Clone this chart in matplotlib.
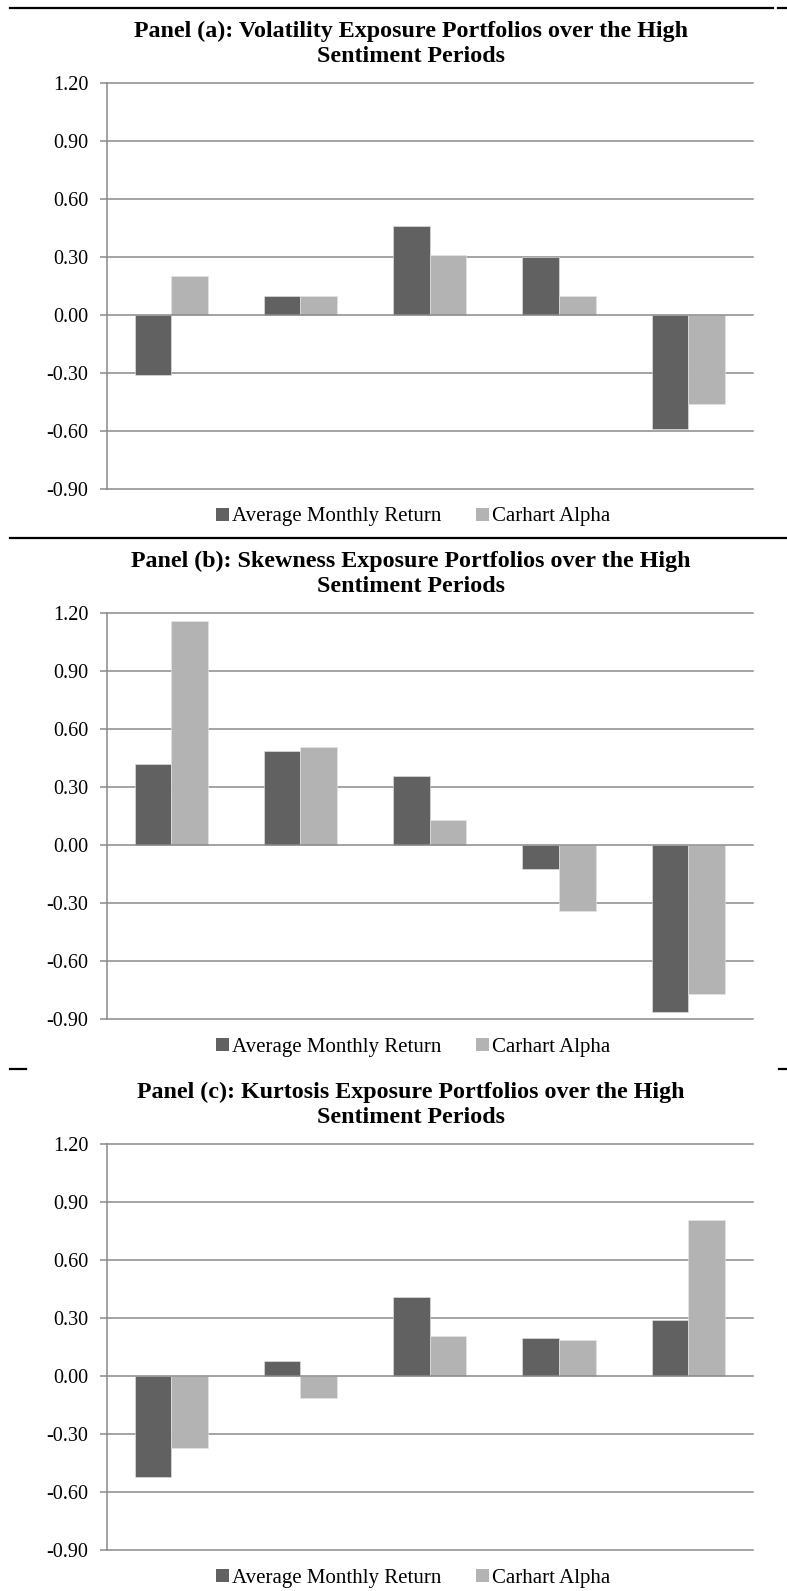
import numpy as np
import matplotlib
matplotlib.use("Agg")
import matplotlib.pyplot as plt
from matplotlib.patches import Patch

plt.rcParams["font.family"] = ["Liberation Serif", "DejaVu Serif"]

W, H, DPI = 787, 1591, 100

DARK = "#616161"
LIGHT = "#b3b3b3"
GRID = "#8a8a8a"

# five exposure-sorted portfolios per panel
portfolios = [1, 2, 3, 4, 5]
series_names = ["Average Monthly Return", "Carhart Alpha"]

vol_avg_return = [-0.31, 0.10, 0.46, 0.30, -0.59]
vol_carhart = [0.20, 0.10, 0.31, 0.10, -0.46]

skew_avg_return = [0.42, 0.49, 0.36, -0.12, -0.86]
skew_carhart = [1.16, 0.51, 0.13, -0.34, -0.77]

kurt_avg_return = [-0.52, 0.08, 0.41, 0.20, 0.29]
kurt_carhart = [-0.37, -0.11, 0.21, 0.19, 0.81]

panel_titles = [
    ("Panel (a): Volatility Exposure Portfolios over the High", "Sentiment Periods"),
    ("Panel (b): Skewness Exposure Portfolios over the High", "Sentiment Periods"),
    ("Panel (c): Kurtosis Exposure Portfolios over the High", "Sentiment Periods"),
]
y_ticks = [-0.90, -0.60, -0.30, 0.00, 0.30, 0.60, 0.90, 1.20]

panels = [
    (vol_avg_return, vol_carhart),
    (skew_avg_return, skew_carhart),
    (kurt_avg_return, kurt_carhart),
]

# pixel layout: top of each plot area (the 1.20 gridline)
plot_tops = [83, 613.3, 1144.3]
plot_h = 406
x_left, x_right = 106.5, 753
bar_w = 0.283


def fx(px):
    return px / W


def fy(py):
    return 1 - py / H


fig = plt.figure(figsize=(W / DPI, H / DPI), dpi=DPI)

for (avg, alpha), (t1, t2), top in zip(panels, panel_titles, plot_tops):
    ax = fig.add_axes([fx(x_left), fy(top + plot_h), (x_right - x_left) / W, plot_h / H])
    x = np.arange(len(portfolios))
    ax.bar(x - bar_w / 2, avg, bar_w, color=DARK, edgecolor="#e8e8e8", linewidth=0.4, zorder=2)
    ax.bar(x + bar_w / 2, alpha, bar_w, color=LIGHT, edgecolor="#e8e8e8", linewidth=0.4, zorder=2)

    for t in y_ticks:
        ax.axhline(t, color=GRID, lw=1.1, zorder=3 if t == 0 else 1, clip_on=False)

    ax.set_xlim(-0.5, len(portfolios) - 0.5)
    ax.set_ylim(-0.9, 1.2)
    ax.set_yticks(y_ticks)
    ax.set_yticklabels([f"{t:.2f}" for t in y_ticks], fontsize=14.5)
    ax.set_xticks([])
    ax.tick_params(axis="y", direction="out", length=5, width=1.1, color=GRID, pad=8)
    for side in ["top", "right", "bottom"]:
        ax.spines[side].set_visible(False)
    ax.spines["left"].set_color(GRID)
    ax.spines["left"].set_linewidth(1.1)

    fig.text(fx(411), fy(top - 52), t1, ha="center", va="center", fontsize=17.3, fontweight="bold")
    fig.text(fx(411), fy(top - 27), t2, ha="center", va="center", fontsize=17.3, fontweight="bold")

    handles = [Patch(facecolor=DARK, edgecolor="none"), Patch(facecolor=LIGHT, edgecolor="none")]
    fig.legend(handles, series_names, loc="center left",
               bbox_to_anchor=(fx(216), fy(top + plot_h + 28)),
               ncol=2, frameon=False, fontsize=15, borderpad=0, borderaxespad=0,
               handlelength=0.6, handleheight=0.6, handletextpad=0.15, columnspacing=1.7)

# black rules separating the panels
lw_rule = 1.6
fig.add_artist(plt.Line2D([fx(10), fx(773)], [fy(8), fy(8)], color="black", lw=lw_rule))
fig.add_artist(plt.Line2D([fx(778), fx(787)], [fy(8), fy(8)], color="black", lw=lw_rule))
fig.add_artist(plt.Line2D([fx(10), fx(787)], [fy(538), fy(538)], color="black", lw=lw_rule))
fig.add_artist(plt.Line2D([fx(10), fx(26)], [fy(1069), fy(1069)], color="black", lw=lw_rule))
fig.add_artist(plt.Line2D([fx(779), fx(787)], [fy(1069), fy(1069)], color="black", lw=lw_rule))

fig.savefig("out.png", dpi=DPI, facecolor="white")
